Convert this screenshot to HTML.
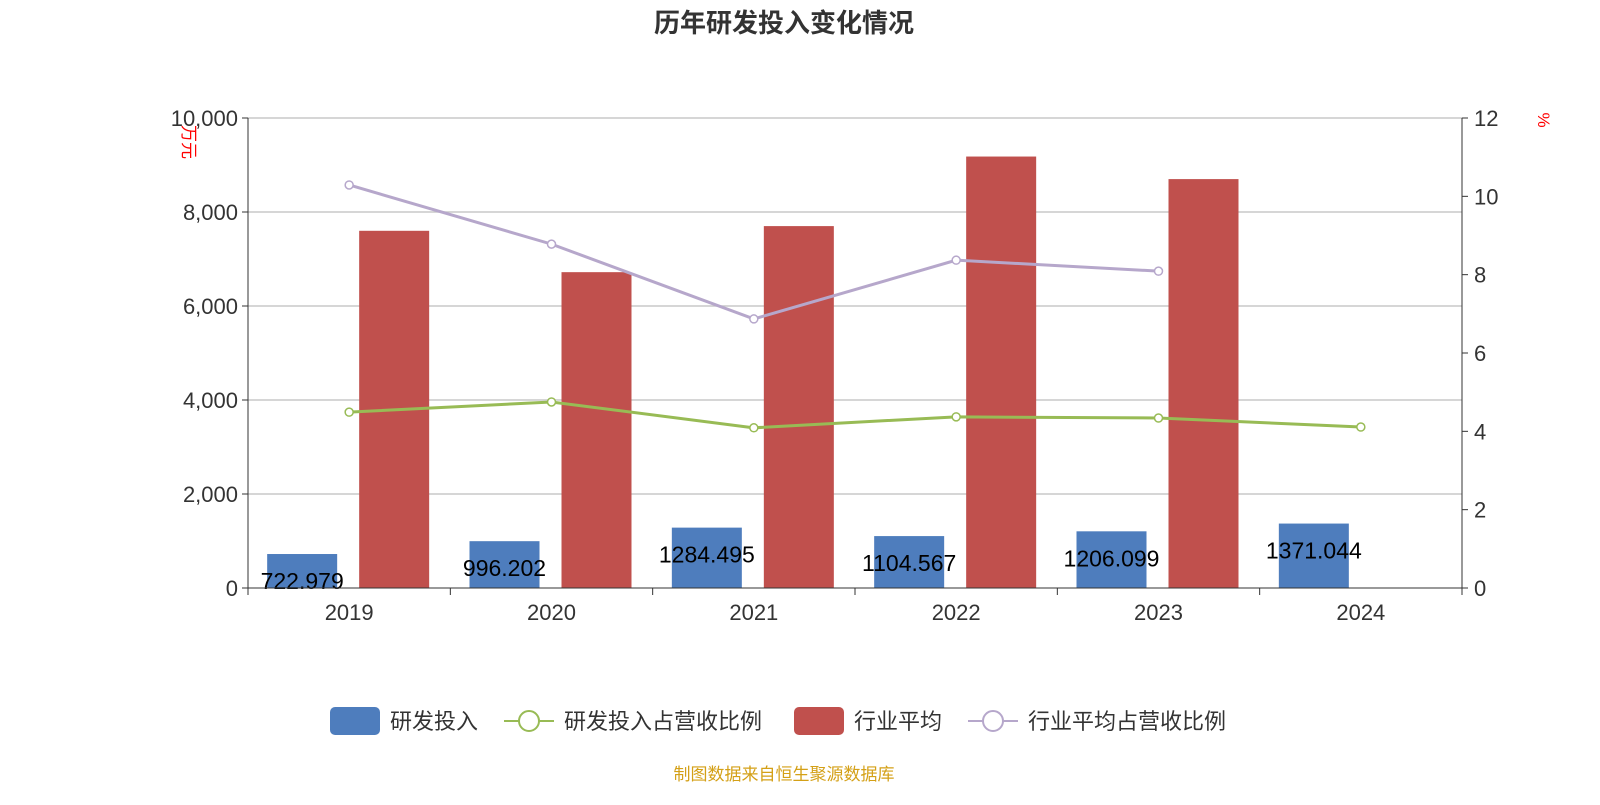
<!DOCTYPE html>
<html><head><meta charset="utf-8"><style>
body{margin:0;background:#fff;width:1600px;height:800px;overflow:hidden;font-family:"Liberation Sans","Noto Sans CJK SC",sans-serif}
</style></head><body>
<svg id="c" width="1600" height="800" xmlns="http://www.w3.org/2000/svg" font-family="Liberation Sans, Noto Sans CJK SC, sans-serif">
<text x="784" y="32" text-anchor="middle" font-size="26" font-weight="bold" fill="#333">历年研发投入变化情况</text>
<text transform="translate(183,142) rotate(90)" text-anchor="middle" font-size="17" fill="red">万元</text>
<text transform="translate(1538,120) rotate(90)" text-anchor="middle" font-size="17" fill="red">%</text>
<g id="grid"></g><g id="bars"></g><g id="lines"></g><g id="axes"></g>
<g font-size="22" fill="#333">
<g><rect x="330" y="707" width="50" height="28" rx="5" fill="#4e7dbd"/><text x="390" y="729">研发投入</text></g>
<g><line x1="504" y1="721" x2="554" y2="721" stroke="#98bb55" stroke-width="2"/><circle cx="529" cy="721" r="10" fill="#fff" stroke="#98bb55" stroke-width="2"/><text x="564" y="729">研发投入占营收比例</text></g>
<g><rect x="794" y="707" width="50" height="28" rx="5" fill="#c0504d"/><text x="854" y="729">行业平均</text></g>
<g><line x1="968" y1="721" x2="1018" y2="721" stroke="#b6a7cb" stroke-width="2"/><circle cx="993" cy="721" r="10" fill="#fff" stroke="#b6a7cb" stroke-width="2"/><text x="1028" y="729">行业平均占营收比例</text></g>
</g>
<text x="784" y="780" text-anchor="middle" font-size="17" fill="#d4a017">制图数据来自恒生聚源数据库</text>
</svg>
<script>
const categories=["2019","2020","2021","2022","2023","2024"];
const rdInvest=[722.979,996.202,1284.495,1104.567,1206.099,1371.044];
const industryAvg=[7600,6720,7700,9180,8700,null];
const rdRatio=[4.49,4.75,4.09,4.37,4.34,4.11];
const industryRatio=[10.29,8.78,6.87,8.37,8.09,null];
const leftTicks=[0,2000,4000,6000,8000,10000];
const rightTicks=[0,2,4,6,8,10,12];
const NS="http://www.w3.org/2000/svg";
const X0=248,X1=1462,Y0=588,Y1=118;
const bw=(X1-X0)/categories.length;
const yL=v=>Y0-(v/10000)*(Y0-Y1);
const yR=v=>Y0-(v/12)*(Y0-Y1);
const xc=i=>X0+bw*(i+0.5);
function mk(t,a,p){const e=document.createElementNS(NS,t);for(const k in a)e.setAttribute(k,a[k]);p.appendChild(e);return e;}
const grid=document.getElementById('grid'),bars=document.getElementById('bars'),lines=document.getElementById('lines'),axes=document.getElementById('axes');
leftTicks.forEach(v=>{
 if(v>0){const g=mk('line',{x1:X0,x2:X1,y1:yL(v),y2:yL(v),stroke:'#c8c8c8','stroke-width':1.5},grid);
 
 }
 mk('line',{x1:X0-6,x2:X0,y1:yL(v),y2:yL(v),stroke:'#333'},axes);
 const t=mk('text',{x:X0-10,y:yL(v)+8,'text-anchor':'end','font-size':22,fill:'#333'},axes);t.textContent=v.toLocaleString('en-US');
 
 
});
rightTicks.forEach(v=>{
 mk('line',{x1:X1,x2:X1+6,y1:yR(v),y2:yR(v),stroke:'#333'},axes);
 const t=mk('text',{x:X1+12,y:yR(v)+8,'font-size':22,fill:'#333'},axes);t.textContent=v;
 
 
});
mk('line',{x1:X0,x2:X0,y1:Y1,y2:Y0,stroke:'#333'},axes);
mk('line',{x1:X1,x2:X1,y1:Y1,y2:Y0,stroke:'#333'},axes);
mk('line',{x1:X0,x2:X1,y1:Y0,y2:Y0,stroke:'#333'},axes);
for(let i=0;i<=categories.length;i++)mk('line',{x1:X0+bw*i,x2:X0+bw*i,y1:Y0,y2:Y0+7,stroke:'#333'},axes);
categories.forEach((c,i)=>{
 const t=mk('text',{x:xc(i),y:620,'text-anchor':'middle','font-size':22,fill:'#333'},axes);t.textContent=c;
 
 
 const b=mk('rect',{x:xc(i)-82,y:yL(rdInvest[i]),width:70,height:Y0-yL(rdInvest[i]),fill:'#4e7dbd'},bars);
 
 
 if(industryAvg[i]!=null){const r=mk('rect',{x:xc(i)+10,y:yL(industryAvg[i]),width:70,height:Y0-yL(industryAvg[i]),fill:'#c0504d'},bars);
 
 }
 const l=mk('text',{x:xc(i)-47,y:yL(rdInvest[i])+35,'text-anchor':'middle','font-size':23,fill:'#000'},lines);l.textContent=rdInvest[i];
 
 
});
function line(arr,col,name){
 const pts=arr.map((v,i)=>v==null?null:[xc(i),yR(v)]).filter(p=>p);
 const p=mk('polyline',{points:pts.map(p=>p.join(',')).join(' '),fill:'none',stroke:col,'stroke-width':3},lines);
 
 
 pts.forEach(q=>{const c=mk('circle',{cx:q[0],cy:q[1],r:4,fill:'#fff',stroke:col,'stroke-width':1.5},lines);
 
 });
}
line(rdRatio,'#98bb55','rd-ratio');
line(industryRatio,'#b6a7cb','industry-ratio');
</script>
</body></html>
